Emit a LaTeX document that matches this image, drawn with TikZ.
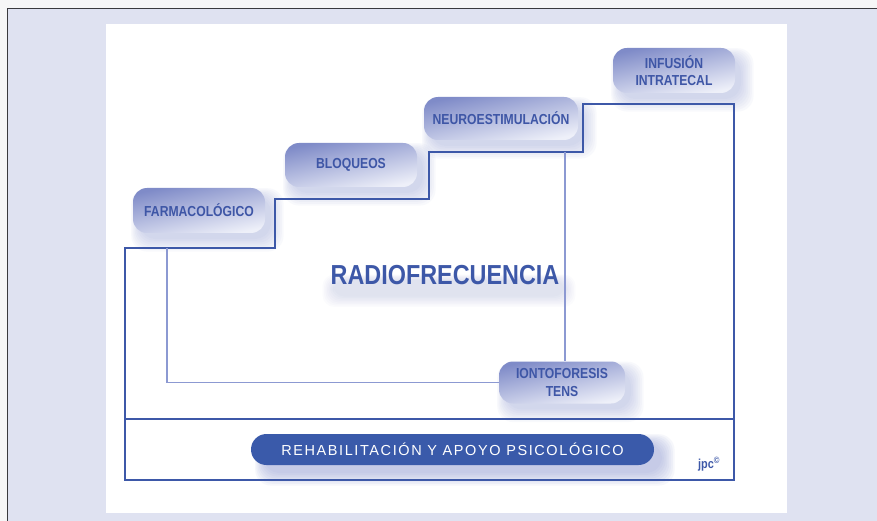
\documentclass[tikz,border=0pt]{standalone}
\usepackage{fontspec}
\setmainfont{Liberation Sans}
\newfontfamily\condf{Liberation Sans}[FakeStretch=0.84]
\newfontfamily\radf{Liberation Sans}[FakeStretch=0.85]
\newfontfamily\widef{Liberation Sans}[LetterSpace=11]
\usetikzlibrary{calc}
\definecolor{lav}{HTML}{DFE2F1}
\definecolor{outerc}{HTML}{F6F6F7}
\definecolor{framec}{HTML}{3A3A3E}
\definecolor{mainblue}{HTML}{3D58A8}
\definecolor{thinblue}{HTML}{8C99D2}
\definecolor{pilltop}{HTML}{7F8BC8}
\definecolor{pillbot}{HTML}{EEF0F9}
\definecolor{txtblue}{HTML}{3E56A6}
\definecolor{shadowc}{HTML}{8E9AD4}
\definecolor{rehabc}{HTML}{3A5AAA}
\pgfdeclarelayer{bg}
\pgfdeclarelayer{shadow}
\pgfsetlayers{bg,shadow,main}
\newcommand\pillshade[1]{%
  \begin{pgfonlayer}{shadow}
  \foreach \k in {1,...,8}{
    \fill[shadowc, opacity=0.055, rounded corners=16pt]
      ($(#1.north west)+(8-\k*1.2, 10-\k*1.2)$) rectangle ($(#1.south east)+(4+\k*1.8, 4+\k*1.8)$);
  }
  \end{pgfonlayer}}
\tikzset{
  pill/.style={rectangle, rounded corners=14pt, top color=pilltop, bottom color=pillbot,
    shading angle=12, text=txtblue, align=center, inner sep=0pt,
    font=\condf\bfseries\fontsize{14.5}{17.5}\selectfont},
  rehab/.style={rectangle, rounded corners=15.5pt, fill=rehabc, text=white, inner sep=0pt,
    minimum width=403pt, minimum height=31pt, font=\widef\fontsize{14.5}{16}\selectfont},
  mainline/.style={draw=mainblue, line width=2pt, line join=miter},
  thinline/.style={draw=thinblue, line width=1.5pt},
  frameline/.style={draw=framec, line width=1pt}
}
\begin{document}
\begin{tikzpicture}[x=1pt,y=-1pt]
\useasboundingbox (0,0) rectangle (877,521);
\begin{pgfonlayer}{bg}
\fill[outerc] (0,0) rectangle (877,521);
\fill[lav] (7,9) rectangle (877,521);
\draw[frameline] (7,521) -- (7,9) -- (877,9);
\fill[white] (106,24) rectangle (787,513);
\end{pgfonlayer}

% staircase frame
\coordinate (s0) at (125,480);
\coordinate (s1) at (125,248);
\coordinate (s2) at (275,248);
\coordinate (s3) at (275,199);
\coordinate (s4) at (429,199);
\coordinate (s5) at (429,152);
\coordinate (s6) at (583,152);
\coordinate (s7) at (583,104);
\coordinate (s8) at (734,104);
\coordinate (s9) at (734,480);
\coordinate (sepL) at (125,419);
\coordinate (sepR) at (734,419);
\draw[mainline] (s0) -- (s1) -- (s2) -- (s3) -- (s4) -- (s5) -- (s6) -- (s7) -- (s8) -- (s9) -- cycle;
\draw[mainline] (sepL) -- (sepR);

% nodes
\node[pill, minimum width=132pt, minimum height=45pt] (farm) at (199,210.5) {FARMACOLÓGICO};
\node[pill, minimum width=132pt, minimum height=44pt] (bloq) at (351,165) {BLOQUEOS};
\node[pill, minimum width=154pt, minimum height=43pt] (neuro) at (501,118.5) {NEUROESTIMULACIÓN};
\node[pill, minimum width=122pt, minimum height=45pt] (infu) at (674,70.5) {INFUSIÓN\\INTRATECAL};
\node[pill, minimum width=126pt, minimum height=42pt] (ionto) at (562,382.5) {IONTOFORESIS\\TENS};
\node[rehab] (rehab) at (452.5,449.5) {REHABILITACIÓN Y APOYO PSICOLÓGICO};
\node[text=mainblue, inner sep=0pt, font=\radf\bfseries\fontsize{27.5}{30}\selectfont] (radio) at (445,275) {RADIOFRECUENCIA};
\node[text=mainblue, inner sep=0pt, font=\condf\bfseries\fontsize{13}{15}\selectfont] (jpc) at (709,464) {jpc\textsuperscript{©}};

\pillshade{farm}
\pillshade{bloq}
\pillshade{neuro}
\pillshade{infu}
\pillshade{ionto}
\begin{pgfonlayer}{shadow}
\foreach \k in {1,...,8}{
  \fill[shadowc, opacity=0.08, rounded corners=16pt]
    ($(rehab.north west)+(14-\k*1.2, 10-\k*1.2)$) rectangle ($(rehab.south east)+(6+\k*1.8, 6+\k*1.8)$);
  \fill[shadowc, opacity=0.035, rounded corners=12pt]
    ($(radio.south west)+(4-\k*1.5, -4-\k*0.8)$) rectangle ($(radio.south east)+(4+\k*1.5, 10+\k*1.5)$);
}
\end{pgfonlayer}

% inner connectors
\coordinate (ia) at (167,248);
\coordinate (ib) at (565,152);
\draw[thinline] (ia) |- (ionto.west);
\draw[thinline] (ib) -- (ib |- ionto.north);
\end{tikzpicture}
\end{document}
